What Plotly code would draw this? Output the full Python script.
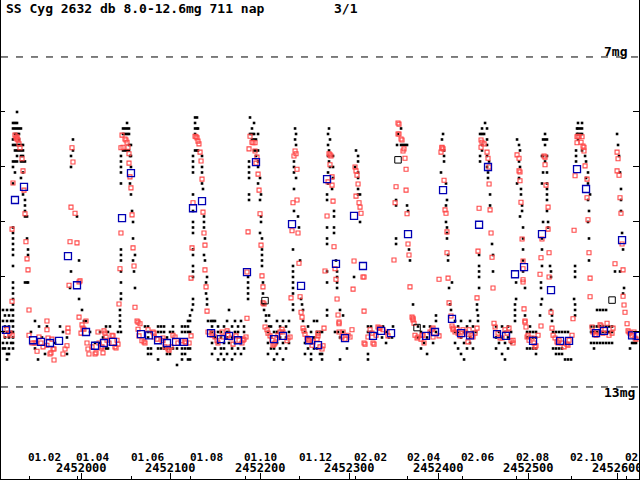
import plotly.graph_objects as go

JD_BASE = 2450000
title_text = "SS Cyg 2632 db 8.0-12.6mg 711 nap"
page_text = "3/1"

# month starts (JD - 2450000) and their labels
month_jd = [1941.5, 1995.5, 2056.5, 2122.5, 2183.5, 2244.5,
            2306.5, 2365.5, 2426.5, 2487.5, 2548.5, 2609.5]
month_labels = ["01.02", "01.04", "01.06", "01.08", "01.10", "01.12",
                "02.02", "02.04", "02.06", "02.08", "02.10", "02.12"]
jd_ticks = [2000, 2100, 2200, 2300, 2400, 2500, 2600]
mag_ticks = [8, 9, 10, 11, 12]
ref_mags = [7, 13]
ref_labels = ["7mg", "13mg"]

# visual estimates: (JD-2450000, [magnitudes])
vis_2001 = [
    (1912.4, [11.6, 11.8, 12.0, 12.2, 12.3]), (1914.6, [11.7, 11.9, 12.1, 12.3]),
    (1916.9, [11.6, 11.8, 12.0, 12.2, 12.4, 12.5]), (1919.1, [11.7, 11.9, 12.1, 12.3, 12.4]),
    (1921.4, [11.6, 11.8, 12.0, 12.2]),
    (1923.6, [8.2, 8.3, 8.5, 8.6, 8.9, 9.0, 9.3, 10.1, 10.2, 10.3, 10.4, 10.5, 10.6, 10.8,
              11.1, 11.2, 11.3, 11.4, 11.5, 11.6, 11.7, 11.8, 11.9, 12.0, 12.1, 12.2, 12.3]),
    (1925.8, [8.2, 8.3, 8.4, 8.6, 8.7, 8.9, 9.1]), (1928.1, [8.0, 8.2, 8.3, 8.4, 8.6, 8.7, 8.8, 8.9]),
    (1930.3, [8.3, 8.4, 8.5, 8.6, 8.7]), (1932.5, [8.3, 8.6, 8.7, 8.8, 8.9, 9.2]),
    (1934.8, [8.6, 8.7, 8.8, 8.9, 9.1, 9.5]), (1937.0, [8.9, 9.6, 9.7, 9.8, 9.9, 11.1]),
    (1939.3, [9.9, 10.3, 11.1]), (1940.4, [10.5, 10.6, 11.1]),
    (1943.7, [12.0]), (1948.2, [11.8, 12.3]), (1951.6, [12.5]), (1952.7, [11.9]), (1956.0, [12.1]),
    (1959.4, [12.4]), (1961.6, [11.9]), (1970.6, [12.2]), (1976.2, [11.9]), (1979.5, [12.0]),
    (1984.0, [12.1, 12.4]),
    (1987.4, [11.2]), (1988.5, [8.8, 9.0, 10.9]), (1990.7, [8.5, 8.7]), (1995.2, [9.9]),
    (1997.5, [10.7, 11.4]), (2000.8, [11.6]), (2003.0, [11.8]), (2005.3, [11.8]),
    (2009.8, [12.0]), (2015.4, [12.2]), (2021.0, [12.0, 12.2]), (2024.3, [12.1]),
    (2027.7, [11.9, 12.3]), (2029.9, [12.0, 12.3]), (2032.1, [11.9]),
    (2041.1, [12.0]), (2043.3, [11.6, 11.7, 11.8, 11.9]),
    (2044.4, [8.8, 8.9, 9.0, 9.1, 9.3, 10.5, 10.6, 10.7, 10.9, 11.1, 11.3, 11.4, 12.0]),
    (2046.7, [8.3, 8.4, 8.7]), (2048.9, [8.3, 8.4, 8.7]), (2051.2, [8.2, 8.3, 8.4, 8.7]),
    (2053.4, [8.3, 8.4, 8.6, 8.7]), (2054.5, [8.8, 9.3]), (2055.6, [8.6, 8.8, 9.0, 9.5]),
    (2056.8, [9.8]), (2057.9, [10.0, 10.3, 10.7]), (2059.0, [10.9]), (2060.1, [10.6, 11.2]),
    (2071.3, [11.9]), (2074.7, [11.9, 12.0, 12.1, 12.3, 12.4]), (2078.0, [12.0, 12.3, 12.4]),
    (2085.9, [11.9, 12.0, 12.3, 12.5]), (2089.2, [11.9, 12.0, 12.3]), (2092.6, [11.9, 12.0, 12.3]),
    (2095.9, [12.1, 12.3, 12.4]), (2099.3, [12.0, 12.3, 12.4]), (2102.6, [11.9, 12.0, 12.3]),
    (2107.1, [12.3, 12.6]), (2112.7, [11.9, 12.0, 12.3, 12.4, 12.5]),
    (2116.1, [11.9, 12.0, 12.3, 12.4]), (2119.4, [11.8, 11.9, 12.0, 12.3, 12.5]),
    (2121.7, [11.7, 11.8, 12.0, 12.3, 12.5]),
    (2123.9, [11.6]),
    (2125.0, [8.8, 8.9, 9.0, 9.1, 9.5, 9.8, 10.0, 10.1, 10.2, 10.5, 10.6, 10.8, 10.9, 11.0, 11.4, 11.5]),
    (2127.3, [8.1, 8.2, 8.3, 8.4, 8.7]), (2129.5, [8.1, 8.3, 8.7]), (2130.6, [8.3, 8.7]),
    (2135.1, [8.8, 9.0, 9.1, 9.3]), (2136.2, [9.4]), (2137.3, [9.9, 10.0, 10.1, 10.6]),
    (2138.4, [10.3, 10.7]), (2139.6, [11.1, 11.3]), (2140.7, [11.0, 11.4, 11.5]), (2141.8, [11.8]),
    (2145.2, [11.8, 12.0]), (2147.4, [11.8]),
    (2146.3, [11.9, 12.0, 12.2, 12.4]), (2149.6, [11.8, 12.1, 12.3]), (2153.0, [11.9, 12.0, 12.2, 12.5]),
    (2156.3, [12.0, 12.1, 12.3, 12.4]), (2159.7, [11.9, 12.2, 12.3, 12.5]),
    (2163.1, [11.8, 12.0, 12.1, 12.4]), (2165.3, [11.6, 12.0, 12.2]), (2168.7, [11.9, 12.1, 12.3, 12.5]),
    (2172.0, [11.8, 12.0, 12.2, 12.4]), (2175.4, [11.9, 12.0, 12.3]), (2178.7, [11.8, 12.1, 12.2, 12.4]),
    (2182.1, [11.9, 12.0, 12.3]),
    (2186.6, [11.0, 11.1, 11.2, 11.3, 11.4]), (2187.7, [8.9, 9.0, 9.1, 9.2, 9.5, 9.6]),
    (2188.8, [8.1, 8.4]), (2191.0, [8.3, 8.4, 8.5]), (2193.3, [8.2, 8.4, 8.5, 8.7]),
    (2195.5, [8.5, 8.7, 8.8]), (2197.8, [8.4, 8.7, 8.9, 9.0, 9.3]), (2200.0, [9.2, 9.6, 10.2]),
    (2201.1, [9.5, 9.9, 10.0]), (2202.2, [10.3, 10.5, 10.6, 10.7, 10.8]), (2203.3, [11.1, 11.3, 11.5]),
    (2204.5, [11.5, 11.6]), (2206.7, [11.7, 11.8]), (2210.1, [11.7, 11.9]),
    (2208.9, [12.0, 12.2, 12.4]), (2212.3, [11.9, 12.1, 12.3]), (2215.7, [12.0, 12.3, 12.5]),
    (2219.0, [11.8, 12.0, 12.2, 12.4]), (2222.4, [11.9, 12.1, 12.3]), (2225.7, [11.8, 12.0, 12.2, 12.5]),
    (2229.1, [11.9, 12.1, 12.3]), (2232.4, [11.8, 12.0, 12.2]),
    (2236.9, [10.5, 10.8, 10.9, 11.0, 11.1, 11.2, 11.3, 11.5, 11.6]),
    (2238.0, [8.9, 9.0, 9.1, 9.4, 9.8]), (2239.2, [8.3, 8.5]), (2240.3, [8.4, 8.6, 9.2]),
    (2242.5, [9.9]), (2243.6, [10.1]),
]
vis_2002 = [
    (2244.8, [10.7]), (2245.9, [11.4]), (2247.0, [11.5]), (2248.1, [11.6, 11.8]),
    (2250.3, [12.0, 12.2, 12.4]), (2253.7, [11.9, 12.1, 12.3]), (2257.1, [12.0, 12.2, 12.4, 12.5]),
    (2260.4, [11.8, 12.1, 12.3]), (2263.8, [11.8, 12.0, 12.3]), (2267.1, [12.0, 12.4]),
    (2269.4, [12.0, 12.4, 12.5]),
    (2275.0, [9.5, 9.6, 10.1, 10.3, 10.4, 10.9, 11.1, 11.6, 11.7]),
    (2276.1, [8.4, 8.6, 8.8, 9.1, 9.3]), (2277.2, [8.3, 8.7, 8.9]), (2278.3, [8.5, 9.0]),
    (2280.6, [9.4]), (2281.7, [8.8, 9.0, 9.2]), (2282.8, [9.8, 9.9, 10.1, 10.2]),
    (2285.0, [10.7]), (2286.2, [10.9, 11.0, 11.1, 11.2]), (2289.5, [11.6, 12.1, 12.5]),
    (2292.9, [11.7, 12.0]), (2283.9, [12.0]), (2287.3, [12.0]), (2297.3, [12.3]),
    (2305.2, [11.0]), (2306.3, [9.0]), (2307.4, [8.7]), (2309.7, [8.8, 8.9, 9.1, 9.2, 9.4, 9.5]),
    (2311.9, [9.5, 10.0]),
    (2320.8, [11.9, 12.0, 12.4, 12.5]), (2324.2, [11.9, 12.0]), (2336.5, [12.1]), (2337.6, [11.9]),
    (2341.0, [12.0, 12.2]), (2344.3, [12.1]), (2347.7, [12.1]), (2348.8, [11.9]),
    (2352.2, [9.6, 9.7, 10.3, 10.4]), (2353.3, [8.6]), (2354.4, [8.4]), (2357.8, [8.3, 8.6]),
    (2360.0, [8.6]), (2362.2, [8.6]), (2364.5, [8.6, 9.7]), (2365.6, [9.8]), (2366.7, [10.5]),
    (2367.8, [10.7]), (2371.2, [11.5]),
    (2376.8, [11.9, 12.1]), (2380.1, [12.0, 12.3]), (2383.5, [11.9, 12.2]), (2386.9, [12.1, 12.4]),
    (2390.2, [11.9, 12.0]), (2393.6, [12.2]), (2396.9, [11.7, 11.8, 12.0]),
    (2402.5, [9.1]), (2403.6, [8.5]), (2404.8, [8.4]), (2405.9, [8.7, 8.8, 8.9]),
    (2408.1, [9.3, 9.7, 10.0]), (2409.2, [9.6, 10.1, 10.2, 10.3]), (2410.4, [10.6, 10.7]),
    (2411.5, [11.2]), (2412.6, [11.5]), (2413.7, [11.6]), (2414.8, [11.1]),
    (2418.2, [11.8, 12.0, 12.2]), (2421.6, [11.9, 12.0, 12.3]), (2424.9, [11.8, 12.1, 12.4]),
    (2428.3, [12.0, 12.2, 12.5]), (2431.6, [11.9, 12.0, 12.3]), (2435.0, [11.8, 12.1, 12.2]),
    (2438.3, [11.9, 12.0, 12.3]), (2441.7, [12.0]),
    (2442.8, [11.5, 11.6]), (2443.9, [11.7, 11.8]), (2445.1, [10.6, 10.8, 10.9, 11.0, 11.2]),
    (2446.2, [8.4, 8.8, 8.9]), (2448.4, [8.3, 8.4, 8.6, 8.7]), (2450.7, [8.4]), (2451.8, [8.2]),
    (2454.0, [8.3, 8.5, 8.6, 8.8, 9.0]), (2455.1, [9.1, 9.2]), (2456.3, [8.9]), (2457.4, [9.5, 9.7]),
    (2459.6, [10.4]), (2460.7, [10.6, 10.9]),
    (2464.1, [11.9, 12.1, 12.3]), (2467.4, [12.0, 12.2]), (2470.8, [11.9, 12.1, 12.4]),
    (2474.1, [12.0, 12.2, 12.5]), (2477.5, [11.9, 12.1, 12.3]), (2480.9, [12.0, 12.2]),
    (2485.3, [11.5, 11.6, 11.7, 11.8]), (2486.5, [11.1, 11.4]), (2487.6, [8.5, 9.3]),
    (2489.8, [8.6, 8.9, 9.2]), (2490.9, [8.7, 9.0, 9.9]), (2492.0, [9.4, 9.5]), (2493.2, [9.7, 9.8]),
    (2494.3, [10.1, 10.3, 10.5, 10.7, 10.9]), (2496.5, [11.2, 11.7]),
    (2498.8, [12.0, 12.1, 12.3]), (2502.1, [11.9, 12.0, 12.1, 12.3]), (2505.5, [12.0, 12.1, 12.3]),
    (2508.8, [12.0, 12.1, 12.3, 12.4]),
    (2513.3, [11.7]), (2514.4, [11.1, 11.2, 11.5]), (2515.5, [8.8, 9.3, 10.3, 10.5, 10.8, 11.4]),
    (2516.7, [8.5, 8.8, 9.1, 10.0]), (2518.9, [8.4, 8.5, 8.6, 8.9]),
    (2521.1, [8.5, 8.8, 9.1, 9.3, 9.4, 9.5, 9.6, 9.8]), (2522.3, [10.0, 10.1]), (2524.5, [10.8]),
    (2525.6, [10.9, 11.0, 11.6]), (2526.7, [11.7, 11.8]),
    (2527.9, [12.0, 12.3]), (2531.2, [12.0, 12.3, 12.4]), (2534.6, [12.0, 12.3, 12.4]),
    (2537.9, [12.0, 12.3, 12.4]), (2541.3, [12.0, 12.5]), (2544.6, [12.0, 12.5]), (2548.0, [12.5]),
    (2551.4, [11.4]), (2552.5, [10.8, 10.9, 11.0, 11.5, 11.6, 11.7]), (2553.6, [8.7, 8.8, 8.9]),
    (2554.7, [8.3, 8.4]), (2555.8, [8.2, 8.3, 8.4, 8.5]), (2558.1, [8.3, 8.4]),
    (2560.3, [8.2, 8.3, 8.4, 8.7]), (2563.7, [8.8]), (2564.8, [8.9, 9.2]),
    (2567.0, [9.1, 9.3, 9.6, 10.0]), (2568.1, [9.8, 10.3, 10.7]), (2569.3, [9.5]),
    (2570.4, [11.9, 12.0, 12.2]), (2573.7, [11.9, 12.0, 12.2, 12.3]), (2577.1, [11.6, 11.9, 12.0, 12.2]),
    (2580.5, [11.6, 11.9, 12.0, 12.2]), (2583.8, [11.6, 11.9, 12.0, 12.2]),
    (2587.2, [11.6, 11.9, 12.0, 12.2]), (2590.5, [11.9, 12.0, 12.2]), (2593.9, [11.9, 12.0, 12.2]),
    (2597.2, [10.9]), (2599.5, [8.4]), (2600.6, [8.6]), (2601.7, [8.8]), (2602.8, [9.1, 10.9]),
    (2603.9, [9.4, 9.6, 9.8]), (2605.1, [10.2]), (2606.2, [10.5, 11.3]), (2607.3, [11.2]),
    (2614.0, [12.3]), (2616.3, [12.2]), (2618.5, [12.2]), (2620.7, [12.2]),
]

# instrumental (CCD) measurements: (JD-2450000, magnitude)
ccd_points = [
    (1925.8, 8.42), (1927.0, 8.47), (1928.1, 8.45), (1928.1, 8.49), (1929.2, 8.51), (1930.3, 8.58),
    (1931.4, 8.65), (1933.7, 8.85), (1934.8, 9.07), (1923.6, 9.29), (1935.9, 9.42), (1937.0, 9.85),
    (1922.5, 10.13), (1938.1, 10.36), (1939.3, 10.67), (1940.4, 10.87), (1922.5, 11.44), (1941.5, 11.60),
    (1915.8, 12.06), (1916.9, 11.96), (1920.2, 12.02), (1922.5, 12.06), (1941.5, 12.06), (1944.9, 12.20),
    (1947.1, 12.20), (1949.3, 12.20), (1950.5, 12.35), (1952.7, 12.09), (1954.9, 12.20), (1957.2, 12.27),
    (1961.6, 11.80), (1961.6, 11.96), (1961.6, 12.24), (1962.8, 12.11), (1965.0, 12.40), (1966.1, 12.38),
    (1967.2, 12.13), (1968.4, 12.31), (1969.5, 12.31), (1969.5, 12.51), (1979.5, 12.40), (1981.8, 12.31),
    (1984.0, 12.25), (1985.1, 12.00), (1985.1, 11.93),
    (1989.6, 8.65), (1990.7, 8.91), (1988.5, 9.73), (1993.0, 9.84), (1987.4, 10.36), (1995.2, 10.38),
    (1986.3, 11.15), (1997.5, 11.09), (1998.6, 11.07), (1997.5, 11.73), (2005.3, 11.80), (2000.8, 11.87),
    (2001.9, 11.93), (2003.0, 11.95), (1999.7, 12.02), (2006.4, 12.20), (2012.0, 12.27), (2007.5, 12.31),
    (2008.6, 12.40), (2015.4, 12.40), (2016.5, 12.38), (2019.8, 12.20), (2018.7, 12.00), (2025.4, 11.98),
    (2026.5, 12.02), (2022.1, 12.29), (2023.2, 12.27), (2024.3, 12.38), (2028.8, 12.15), (2027.7, 12.09),
    (2031.0, 12.20), (2034.4, 12.06), (2035.5, 12.07), (2037.7, 12.27), (2038.9, 12.29), (2040.0, 12.15),
    (2041.1, 12.22),
    (2045.6, 8.42), (2048.9, 8.49), (2050.0, 8.51), (2051.2, 8.55), (2046.7, 8.64), (2044.4, 8.65),
    (2052.3, 8.64), (2053.4, 8.76), (2053.4, 8.93), (2054.5, 9.18), (2055.6, 9.38), (2056.8, 9.87),
    (2044.4, 10.20), (2057.9, 10.47), (2059.0, 10.80), (2043.3, 10.85), (2042.2, 11.49), (2060.1, 11.55),
    (2062.4, 11.80), (2063.5, 11.82), (2065.7, 11.85), (2063.5, 11.95), (2064.6, 12.07), (2067.9, 12.16),
    (2070.2, 12.18), (2071.3, 12.20), (2074.7, 11.96), (2080.3, 12.00), (2081.4, 12.02), (2081.4, 12.09),
    (2084.7, 12.13), (2090.3, 12.15), (2091.4, 12.16), (2091.4, 12.11), (2093.7, 12.27), (2097.0, 12.31),
    (2098.2, 12.33), (2100.4, 12.27), (2102.6, 12.06), (2104.9, 12.09), (2108.2, 12.20), (2111.6, 12.16),
    (2116.1, 12.18), (2117.2, 12.20), (2120.6, 12.20), (2122.8, 12.07),
    (2127.3, 8.44), (2128.4, 8.45), (2129.5, 8.47), (2130.6, 8.53), (2131.7, 8.58), (2132.9, 8.73),
    (2134.0, 8.89), (2135.1, 9.22), (2125.0, 9.65), (2136.2, 9.82), (2137.3, 10.20), (2138.4, 10.42),
    (2123.9, 10.47), (2138.4, 10.87), (2122.8, 11.02), (2139.6, 11.18), (2140.7, 11.62), (2141.8, 12.00),
    (2146.3, 12.06), (2147.4, 12.02), (2149.6, 12.09), (2151.9, 12.16), (2153.0, 12.20), (2157.5, 12.00),
    (2158.6, 12.09), (2163.1, 11.98), (2164.2, 12.06), (2167.5, 12.11), (2169.8, 12.22), (2173.1, 12.07),
    (2176.5, 12.15), (2179.8, 12.20), (2181.0, 12.15), (2182.1, 12.13), (2184.3, 12.09),
    (2188.8, 8.44), (2191.0, 8.55), (2192.2, 8.56), (2194.4, 8.56), (2187.7, 8.67), (2194.4, 8.71),
    (2196.6, 8.82), (2195.5, 8.93), (2197.8, 9.13), (2198.9, 9.42), (2200.0, 9.85), (2186.6, 10.18),
    (2201.1, 10.42), (2185.4, 10.91), (2202.2, 10.98), (2203.3, 11.18), (2203.3, 11.47), (2204.5, 11.49),
    (2185.4, 11.75), (2205.6, 11.91), (2207.8, 11.96), (2208.9, 12.02), (2211.2, 12.07), (2213.4, 12.15),
    (2214.5, 12.24), (2215.7, 12.22), (2216.8, 12.20), (2219.0, 12.11), (2220.1, 12.06), (2222.4, 12.00),
    (2224.6, 11.95), (2225.7, 12.00), (2230.2, 12.16), (2231.3, 12.11), (2233.6, 12.09),
    (2239.2, 8.71), (2238.0, 8.80), (2240.3, 8.76), (2241.4, 9.04), (2241.4, 9.60), (2236.9, 9.65),
    (2235.8, 10.16), (2242.5, 10.20), (2243.6, 10.75), (2234.7, 11.38), (2244.8, 11.36), (2245.9, 11.64),
    (2247.0, 11.73), (2248.1, 11.93), (2249.2, 11.98), (2250.3, 12.04), (2252.6, 12.11), (2253.7, 12.13),
    (2254.8, 12.15), (2258.2, 12.24), (2259.3, 12.18), (2263.8, 12.13), (2264.9, 12.07), (2264.9, 12.02),
    (2267.1, 12.27), (2269.4, 12.31), (2270.5, 12.25), (2271.6, 11.93),
    (2277.2, 8.76), (2278.3, 8.78), (2279.4, 8.80), (2278.3, 8.96), (2280.6, 9.18), (2276.1, 9.27),
    (2280.6, 9.33), (2281.7, 9.62), (2275.0, 9.89), (2282.8, 10.45), (2272.7, 10.89), (2283.9, 10.85),
    (2285.0, 11.04), (2286.2, 11.40), (2287.3, 11.69), (2288.4, 11.82), (2288.4, 11.85), (2288.4, 12.00),
    (2291.7, 12.09), (2292.9, 12.00), (2295.1, 12.13), (2298.5, 12.06), (2300.7, 12.09), (2302.9, 11.96),
    (2306.3, 9.00), (2307.4, 9.07), (2308.5, 9.15), (2309.7, 9.31), (2307.4, 9.53), (2310.8, 9.65),
    (2311.9, 9.73), (2313.0, 9.84), (2305.2, 10.71), (2315.2, 11.00), (2316.4, 11.00), (2304.1, 11.22),
    (2316.4, 11.62), (2316.4, 12.20), (2317.5, 12.22), (2320.8, 12.09), (2323.1, 11.96), (2325.3, 12.02),
    (2326.4, 12.20), (2327.6, 12.22), (2329.8, 12.06), (2332.0, 11.91), (2333.2, 11.93), (2334.3, 11.93),
    (2337.6, 11.96), (2342.1, 12.00), (2343.2, 12.07),
    (2354.4, 8.20), (2355.5, 8.22), (2354.4, 8.40), (2355.5, 8.40), (2357.8, 8.49), (2358.9, 8.51),
    (2360.0, 8.71), (2361.1, 8.67), (2362.2, 8.84), (2363.4, 9.04), (2352.2, 9.36), (2363.4, 9.42),
    (2351.1, 9.65), (2364.5, 9.85), (2365.6, 10.40), (2366.7, 10.60), (2349.9, 10.69), (2367.8, 11.18),
    (2370.1, 11.73), (2371.2, 11.75), (2371.2, 11.78), (2372.3, 11.84), (2373.4, 12.06), (2375.7, 12.11),
    (2376.8, 12.09), (2380.1, 12.13), (2382.4, 12.06), (2383.5, 12.20), (2381.3, 12.06), (2390.2, 12.00),
    (2392.5, 11.96), (2393.6, 11.93), (2393.6, 12.09), (2400.3, 12.07),
    (2403.6, 8.65), (2404.8, 8.67), (2402.5, 8.73), (2403.6, 8.64), (2405.9, 9.24), (2407.0, 9.78),
    (2408.1, 9.84), (2409.2, 10.18), (2409.2, 10.56), (2410.4, 11.02), (2400.3, 11.04), (2411.5, 11.47),
    (2413.7, 11.71), (2414.8, 11.89), (2416.0, 11.93), (2416.0, 11.96), (2418.2, 12.00), (2420.4, 11.95),
    (2421.6, 12.02), (2423.8, 12.07), (2427.1, 11.96), (2429.4, 12.00), (2431.6, 12.04), (2432.7, 12.18),
    (2433.9, 11.96), (2437.2, 12.06), (2438.3, 12.09), (2440.6, 12.02), (2442.8, 11.93),
    (2447.3, 8.51), (2448.4, 8.55), (2450.7, 8.58), (2447.3, 8.64), (2454.0, 8.73), (2455.1, 8.84),
    (2456.3, 9.00), (2456.3, 9.31), (2445.1, 9.75), (2457.4, 9.78), (2458.5, 10.20), (2443.9, 10.53),
    (2459.6, 10.64), (2460.7, 11.20), (2442.8, 11.38), (2461.8, 11.84), (2463.0, 11.91), (2466.3, 12.02),
    (2468.6, 12.11), (2470.8, 12.11), (2474.1, 11.96), (2476.4, 12.02), (2478.6, 11.93), (2480.9, 12.16),
    (2483.1, 12.20), (2483.1, 12.15),
    (2487.6, 8.78), (2489.8, 8.84), (2489.8, 9.07), (2490.9, 9.09), (2490.9, 9.25), (2492.0, 9.64),
    (2493.2, 10.31), (2494.3, 10.71), (2494.3, 10.85), (2494.3, 11.05), (2494.3, 11.09), (2495.4, 11.58),
    (2496.5, 11.80), (2496.5, 11.82), (2497.6, 11.91), (2498.8, 12.09), (2499.9, 12.06), (2501.0, 12.15),
    (2504.4, 12.11), (2506.6, 12.20), (2507.7, 12.27), (2508.8, 12.25), (2511.1, 12.06), (2514.4, 11.89),
    (2517.8, 8.80), (2518.9, 8.82), (2518.9, 8.96), (2520.0, 9.33), (2522.3, 9.73), (2522.3, 10.13),
    (2515.5, 10.31), (2523.4, 10.56), (2514.4, 10.65), (2513.3, 10.95), (2523.4, 11.00), (2525.6, 11.64),
    (2526.7, 11.93), (2527.9, 12.06), (2530.1, 12.11), (2532.3, 12.18), (2533.5, 12.20), (2534.6, 12.15),
    (2537.9, 12.20), (2540.2, 12.27), (2543.5, 12.22), (2544.6, 12.24), (2545.8, 12.15), (2549.1, 12.06),
    (2550.2, 11.76),
    (2554.7, 8.45), (2555.8, 8.44), (2557.0, 8.45), (2560.3, 8.45), (2559.2, 8.55), (2554.7, 8.56),
    (2561.4, 8.62), (2562.5, 8.64), (2562.5, 8.71), (2563.7, 8.98), (2552.5, 9.16), (2565.9, 9.22),
    (2565.9, 9.56), (2567.0, 9.96), (2551.4, 10.15), (2568.1, 10.56), (2569.3, 11.02), (2569.3, 11.36),
    (2571.5, 11.91), (2572.6, 12.00), (2574.9, 12.04), (2576.0, 12.06), (2577.1, 12.00), (2580.5, 11.87),
    (2581.6, 11.89), (2583.8, 12.02), (2586.0, 11.96), (2588.3, 11.84), (2590.5, 12.06), (2593.9, 12.02),
    (2595.0, 11.93),
    (2599.5, 8.73), (2600.6, 8.85), (2599.5, 9.07), (2601.7, 9.15), (2602.8, 9.56), (2603.9, 9.84),
    (2605.1, 10.40), (2597.2, 10.76), (2606.2, 10.87), (2606.2, 11.35), (2607.3, 11.51), (2608.4, 11.64),
    (2610.7, 11.85), (2611.8, 11.98), (2612.9, 12.00), (2614.0, 12.02), (2616.3, 12.06), (2618.5, 12.00),
    (2619.6, 12.11), (2620.7, 12.13),
]

# 10-day means (blue squares)
mean_points = [
    (1935.9, 9.36), (1925.8, 9.60), (1985.1, 10.62), (1995.2, 11.15), (1915.8, 11.96),
    (1946.0, 12.15), (1954.9, 12.18), (1965.0, 12.20), (1975.1, 12.16), (2005.3, 12.00),
    (2015.4, 12.25), (2025.4, 12.20), (2035.5, 12.18), (2055.6, 9.11), (2045.6, 9.93),
    (2066.8, 12.04), (2075.8, 12.06), (2085.9, 12.15), (2095.9, 12.20), (2106.0, 12.18),
    (2115.0, 12.18), (2135.1, 9.62), (2125.0, 9.75), (2145.2, 12.02), (2156.3, 12.13),
    (2165.3, 12.07), (2175.4, 12.15), (2195.5, 8.91), (2185.4, 10.91), (2215.7, 12.13),
    (2225.7, 12.07), (2235.8, 10.04), (2245.9, 11.16), (2254.8, 12.15), (2264.9, 12.24),
    (2275.0, 9.22), (2285.0, 10.76), (2295.1, 12.11), (2305.2, 9.89), (2315.2, 10.80),
    (2326.4, 12.07), (2335.4, 11.98), (2346.6, 12.02), (2365.6, 10.22), (2385.7, 12.07),
    (2395.8, 12.00), (2404.8, 9.42), (2414.8, 11.76), (2424.9, 12.02), (2435.0, 12.06),
    (2455.1, 9.00), (2445.1, 10.05), (2465.2, 12.04), (2475.3, 12.07), (2495.4, 10.82),
    (2485.3, 10.95), (2505.5, 12.16), (2515.5, 10.22), (2525.6, 11.24), (2535.7, 12.16),
    (2545.8, 12.16), (2554.7, 9.04), (2564.8, 9.40), (2576.0, 12.02), (2584.9, 11.98),
    (2605.1, 10.33), (2616.3, 12.06), (2623.0, 12.07),
]
other_means = [(2205.6, 11.43), (2375.7, 11.92), (2354.4, 8.87), (2593.9, 11.42)]

# ---- flatten ----
vis_jd, vis_mag = [], []
for jd, mags in vis_2001 + vis_2002:
    for m in mags:
        vis_jd.append(jd)
        vis_mag.append(m)
ccd_jd = [p[0] for p in ccd_points]
ccd_mag = [p[1] for p in ccd_points]
mean_jd = [p[0] for p in mean_points]
mean_mag = [p[1] for p in mean_points]
oth_jd = [p[0] for p in other_means]
oth_mag = [p[1] for p in other_means]

X_RANGE = [1910.17, 2624.05]
Y_RANGE = [14.673, 5.964]
FONT = "DejaVu Sans Mono"


def bold(s):
    return "<b>" + s + "</b>"


fig = go.Figure()
fig.add_trace(go.Scatter(x=vis_jd, y=vis_mag, mode="markers",
                         marker=dict(symbol="square", size=2.6, color="black", line=dict(width=0)),
                         hoverinfo="skip"))
fig.add_trace(go.Scatter(x=ccd_jd, y=ccd_mag, mode="markers",
                         marker=dict(symbol="square-open", size=4, color="#ff4848", line=dict(width=1.1)),
                         hoverinfo="skip"))
fig.add_trace(go.Scatter(x=oth_jd, y=oth_mag, mode="markers", xaxis="x2", yaxis="y2",
                         marker=dict(symbol="square-open", size=6.5, color="black", line=dict(width=1)),
                         hoverinfo="skip"))
fig.add_trace(go.Scatter(x=mean_jd, y=mean_mag, mode="markers", xaxis="x2", yaxis="y2",
                         marker=dict(symbol="square-open", size=7, color="#0000b4", line=dict(width=1.3)),
                         hoverinfo="skip"))

shapes = []
for m in ref_mags:
    shapes.append(dict(type="line", xref="paper", x0=0, x1=1, yref="y", y0=m, y1=m,
                       line=dict(color="black", width=1, dash="7px,8px")))

tfont = dict(family=FONT, size=13, color="black")
mfont = dict(family=FONT, size=11, color="black")
jfont = dict(family=FONT, size=12, color="black")
annotations = [
    dict(text=bold(title_text), xref="paper", yref="paper", x=0.004, y=0.983, xanchor="left",
         yanchor="middle", showarrow=False, font=tfont),
    dict(text=bold(page_text), xref="paper", yref="paper", x=0.519, y=0.983, xanchor="left",
         yanchor="middle", showarrow=False, font=tfont),
]
for m, lab in zip(ref_mags, ref_labels):
    annotations.append(dict(text=bold(lab), xref="paper", yref="y", x=0.942,
                            y=m - 0.1 if m < 10 else m + 0.1, xanchor="left", yanchor="middle",
                            showarrow=False, font=tfont))
for jd, lab in zip(month_jd, month_labels):
    annotations.append(dict(text=bold(lab), xref="x", yref="paper", x=jd, y=0.0445, xanchor="left",
                            yanchor="middle", showarrow=False, xshift=-2, borderpad=0, font=mfont))
for jd in jd_ticks:
    annotations.append(dict(text=bold(str(JD_BASE + jd)), xref="x", yref="paper", x=jd, y=0.022,
                            xanchor="center", yanchor="middle", showarrow=False, borderpad=0,
                            font=jfont))

axis_common = dict(showgrid=False, zeroline=False, showticklabels=False, ticks="inside",
                   tickcolor="black", tickwidth=1)
fig.update_layout(
    width=640, height=480, margin=dict(l=1, r=1, t=0, b=1, autoexpand=False),
    paper_bgcolor="white", plot_bgcolor="white", showlegend=False,
    xaxis=dict(range=X_RANGE, tickvals=month_jd, ticklen=3, showline=True, linecolor="black",
               linewidth=1, mirror=False, **axis_common),
    xaxis2=dict(range=X_RANGE, overlaying="x", side="bottom", tickvals=jd_ticks, ticklen=6,
                showline=False, **axis_common),
    yaxis=dict(range=Y_RANGE, tickvals=mag_ticks, ticklen=4, showline=True, linecolor="black",
               linewidth=1, **axis_common),
    yaxis2=dict(range=Y_RANGE, overlaying="y", side="right", tickvals=mag_ticks, ticklen=6,
                showline=True, linecolor="black", linewidth=1, **axis_common),
    shapes=shapes, annotations=annotations,
)
fig.write_html("out.html", config={"displayModeBar": False, "staticPlot": True},
               post_script="document.body.style.margin='0';document.body.style.padding='0';"
                           "document.body.style.overflow='hidden';")
